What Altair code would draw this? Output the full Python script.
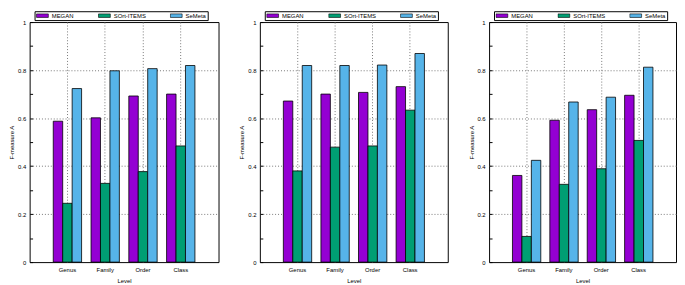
import altair as alt
import pandas as pd

levels = ["Genus", "Family", "Order", "Class"]
methods = ["MEGAN", "SOrt-ITEMS", "SeMeta"]
colors = ["#9400D3", "#009E73", "#56B4E9"]

p1_megan = [0.587, 0.601, 0.692, 0.700]
p1_sort = [0.245, 0.328, 0.377, 0.484]
p1_semeta = [0.723, 0.797, 0.806, 0.819]

p2_megan = [0.671, 0.700, 0.707, 0.731]
p2_sort = [0.380, 0.479, 0.484, 0.633]
p2_semeta = [0.819, 0.819, 0.821, 0.869]

p3_megan = [0.361, 0.591, 0.635, 0.695]
p3_sort = [0.107, 0.324, 0.389, 0.507]
p3_semeta = [0.424, 0.667, 0.687, 0.812]

y_ticks = [0, 0.1, 0.2, 0.3, 0.4, 0.5, 0.6, 0.7, 0.8, 0.9, 1.0]

FONT = "Liberation Sans"


def panel(megan, sort_, semeta, w):
    df = pd.DataFrame({
        "Level": levels * 3,
        "Method": [m for m in methods for _ in levels],
        "value": megan + sort_ + semeta,
    })
    x = alt.X(
        "Level:N", sort=levels,
        scale=alt.Scale(paddingInner=0.25, paddingOuter=0.625),
        axis=alt.Axis(title="Level", labelAngle=0, bandPosition=0.5, grid=True,
                      gridDash=[1, 2], gridColor="#777", ticks=False, domain=False,
                      labelPadding=5, titlePadding=5),
    )
    return alt.Chart(df).mark_bar(stroke="black", strokeWidth=0.8).encode(
        x=x,
        xOffset=alt.XOffset("Method:N", sort=methods,
                            scale=alt.Scale(paddingInner=0, paddingOuter=0)),
        y=alt.Y("value:Q", scale=alt.Scale(domain=[0, 1], nice=False, zero=True),
                axis=alt.Axis(orient="left", values=y_ticks, format=".1~f",
                              labelExpr="(round(datum.value * 10) % 2 == 0) ? datum.label : ''",
                              grid=True, gridDash=[1, 2], gridColor="#777",
                              gridOpacity={"condition": {"test": "round(datum.value * 10) % 2 == 1 || datum.value <= 0 || datum.value >= 1", "value": 0}, "value": 1},
                              offset=-3, tickSize=3, tickColor="black",
                              domain=False, title="F-measure A",
                              labelPadding=4, titlePadding=3)),
        color=alt.Color("Method:N", sort=methods,
                        scale=alt.Scale(domain=methods, range=colors),
                        legend=alt.Legend(title=None, orient="none", legendX=5, legendY=-11,
                                          direction="horizontal", strokeColor="black",
                                          fillColor="white", padding=1.5,
                                          symbolType="M-1,-0.3H1V0.3H-1Z", symbolSize=144,
                                          symbolStrokeColor="black", symbolStrokeWidth=0.6,
                                          clipHeight=6, labelOffset=3,
                                          columnPadding=24, labelFontSize=6, labelFont=FONT,
                                          labelColor="black")),
    ).properties(width=w, height=244)


chart = alt.hconcat(
    panel(p1_megan, p1_sort, p1_semeta, 192),
    panel(p2_megan, p2_sort, p2_semeta, 191),
    panel(p3_megan, p3_sort, p3_semeta, 190),
    spacing=19,
).resolve_legend(color="independent").properties(padding=0).configure(
    font=FONT,
).configure_view(
    stroke="black", strokeWidth=1,
).configure_axis(
    labelFontSize=6, titleFontSize=6, labelColor="black", titleColor="black",
    titleFontWeight="normal", labelFont=FONT, titleFont=FONT,
)

chart.save("out.html", embed_options={"renderer": "svg", "actions": False})
